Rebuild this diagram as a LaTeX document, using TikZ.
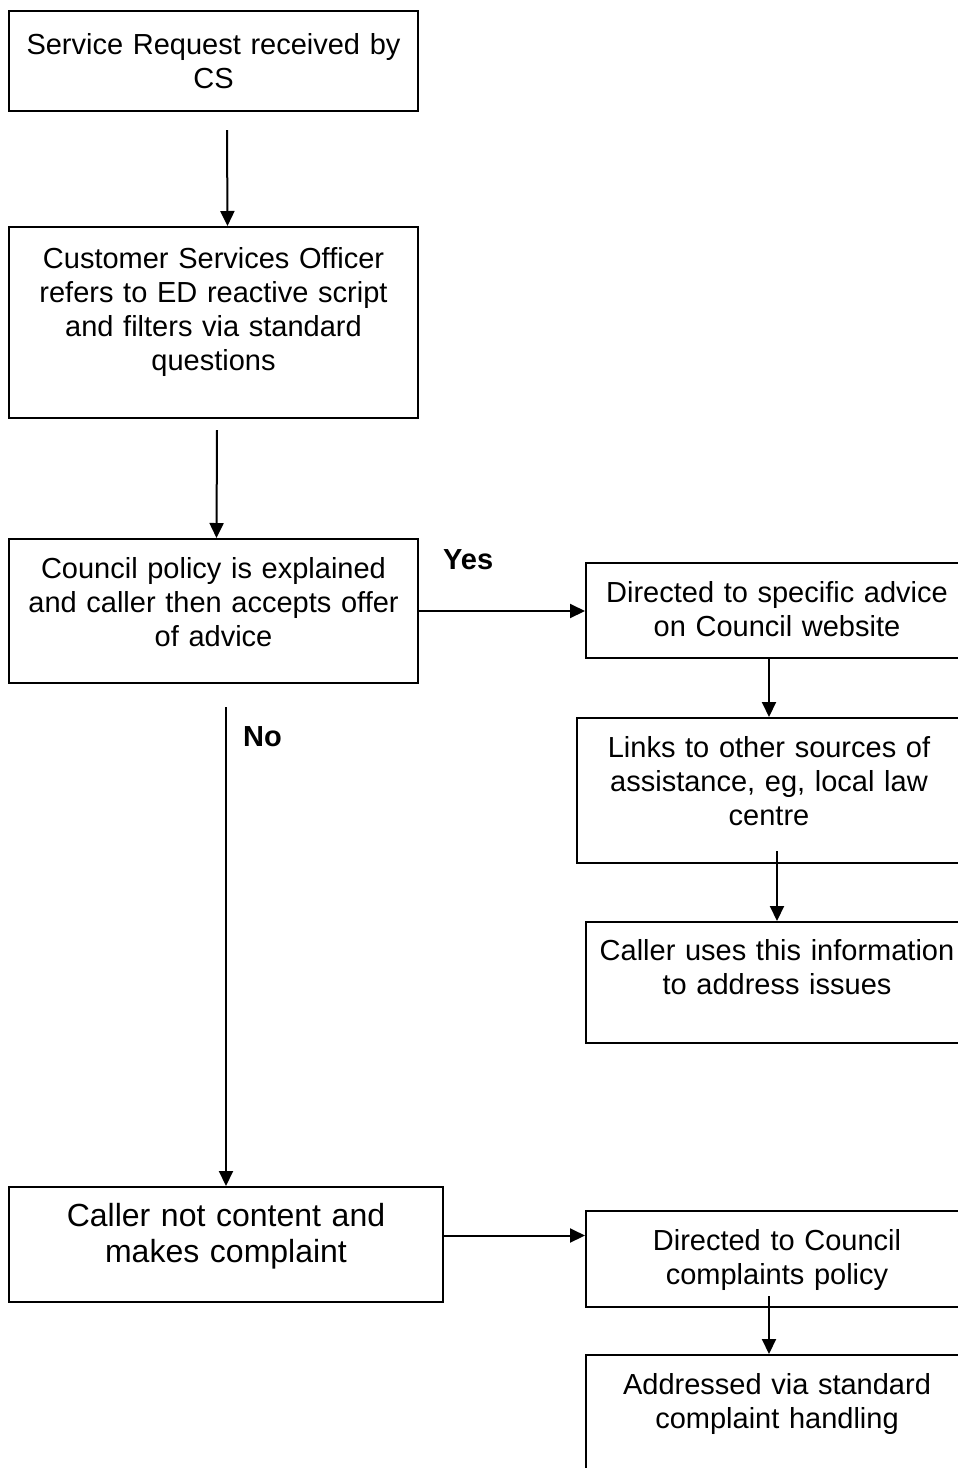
\documentclass[tikz,border=0pt]{standalone}
\usepackage{fontspec}
\setmainfont{Liberation Sans}
\usepackage{tikz}
\usetikzlibrary{arrows.meta}

\begin{document}
\begin{tikzpicture}%
                    [x=1pt, y=-1pt,
                    box/.style={draw, line width=2pt, anchor=north west, align=center,
                                inner xsep=0pt, inner ysep=0pt,
                                font=\fontsize{29}{34}\selectfont},
                    bigbox/.style={box, font=\fontsize{32}{36.5}\selectfont},
                    answer/.style={anchor=base west, inner sep=0pt,
                                   font=\fontsize{29}{34}\selectfont\bfseries},
                    arr/.style={line width=2pt, -{Triangle[length=15pt,width=14pt]}}]

                \useasboundingbox (0,0) rectangle (958,1468);
                \clip (0,0) rectangle (958,1468);
                %%
                %% Left column
                %%
                \node[box, text width=409pt, text height=43pt, text depth=57pt] (req) at (8,10)
                      {Service Request received by\\CS};
                \node[box, text width=409pt, text height=41pt, text depth=150pt] (cso) at (8,226)
                      {Customer Services Officer\\refers to ED reactive script\\and filters via standard\\questions};
                \node[box, text width=409pt, text height=39pt, text depth=105pt] (policy) at (8,538)
                      {Council policy is explained\\and caller then accepts offer\\of advice};
                \node[bigbox, text width=434pt, text height=39pt, text depth=76pt] (complaint) at (8,1186)
                      {Caller not content and\\makes complaint};
                %%
                %% Right column
                %%
                \node[box, text width=382pt, text height=39pt, text depth=56pt] (web) at (585,562)
                      {Directed to specific advice\\on Council website};
                \node[box, text width=384pt, text height=39pt, text depth=106pt] (links) at (576,717)
                      {Links to other sources of\\assistance, eg, local law\\centre};
                \node[box, text width=382pt, text height=38pt, text depth=83pt] (uses) at (585,921)
                      {Caller uses this information\\to address issues};
                \node[box, text width=382pt, text height=39pt, text depth=57pt] (dirc) at (585,1210)
                      {Directed to Council\\complaints policy};
                \node[box, text width=382pt, text height=39pt, text depth=130pt] (addr) at (585,1354)
                      {Addressed via standard\\complaint handling};
                %%
                %% Answers
                %%
                \node[answer] (yes) at (443,569) {Yes};
                \node[answer] (no) at (243,746) {No};
                %%
                %% Connectors
                %%
                \draw[arr] ([xshift=13.5pt,yshift=-18pt]req.south) -- ([xshift=14pt]cso.north);
                \draw[arr] ([xshift=3.5pt,yshift=-11pt]cso.south) -- ([xshift=3pt]policy.north);
                \draw[arr] (policy.east) -- (policy.east -| web.west);
                \draw[arr] ([yshift=-23pt]policy.south -| complaint.north) -- (complaint.north);
                \draw[arr] (web.south -| links.north) -- (links.north);
                \draw[arr] ([yshift=13pt]links.south -| uses.north) -- (uses.north);
                \draw[arr] ([yshift=9pt]complaint.east) -- ([yshift=9pt]complaint.east -| dirc.west);
                \draw[arr] ([xshift=-8pt,yshift=12pt]dirc.south) -- ([xshift=-8pt]addr.north);
\end{tikzpicture}
\end{document}
